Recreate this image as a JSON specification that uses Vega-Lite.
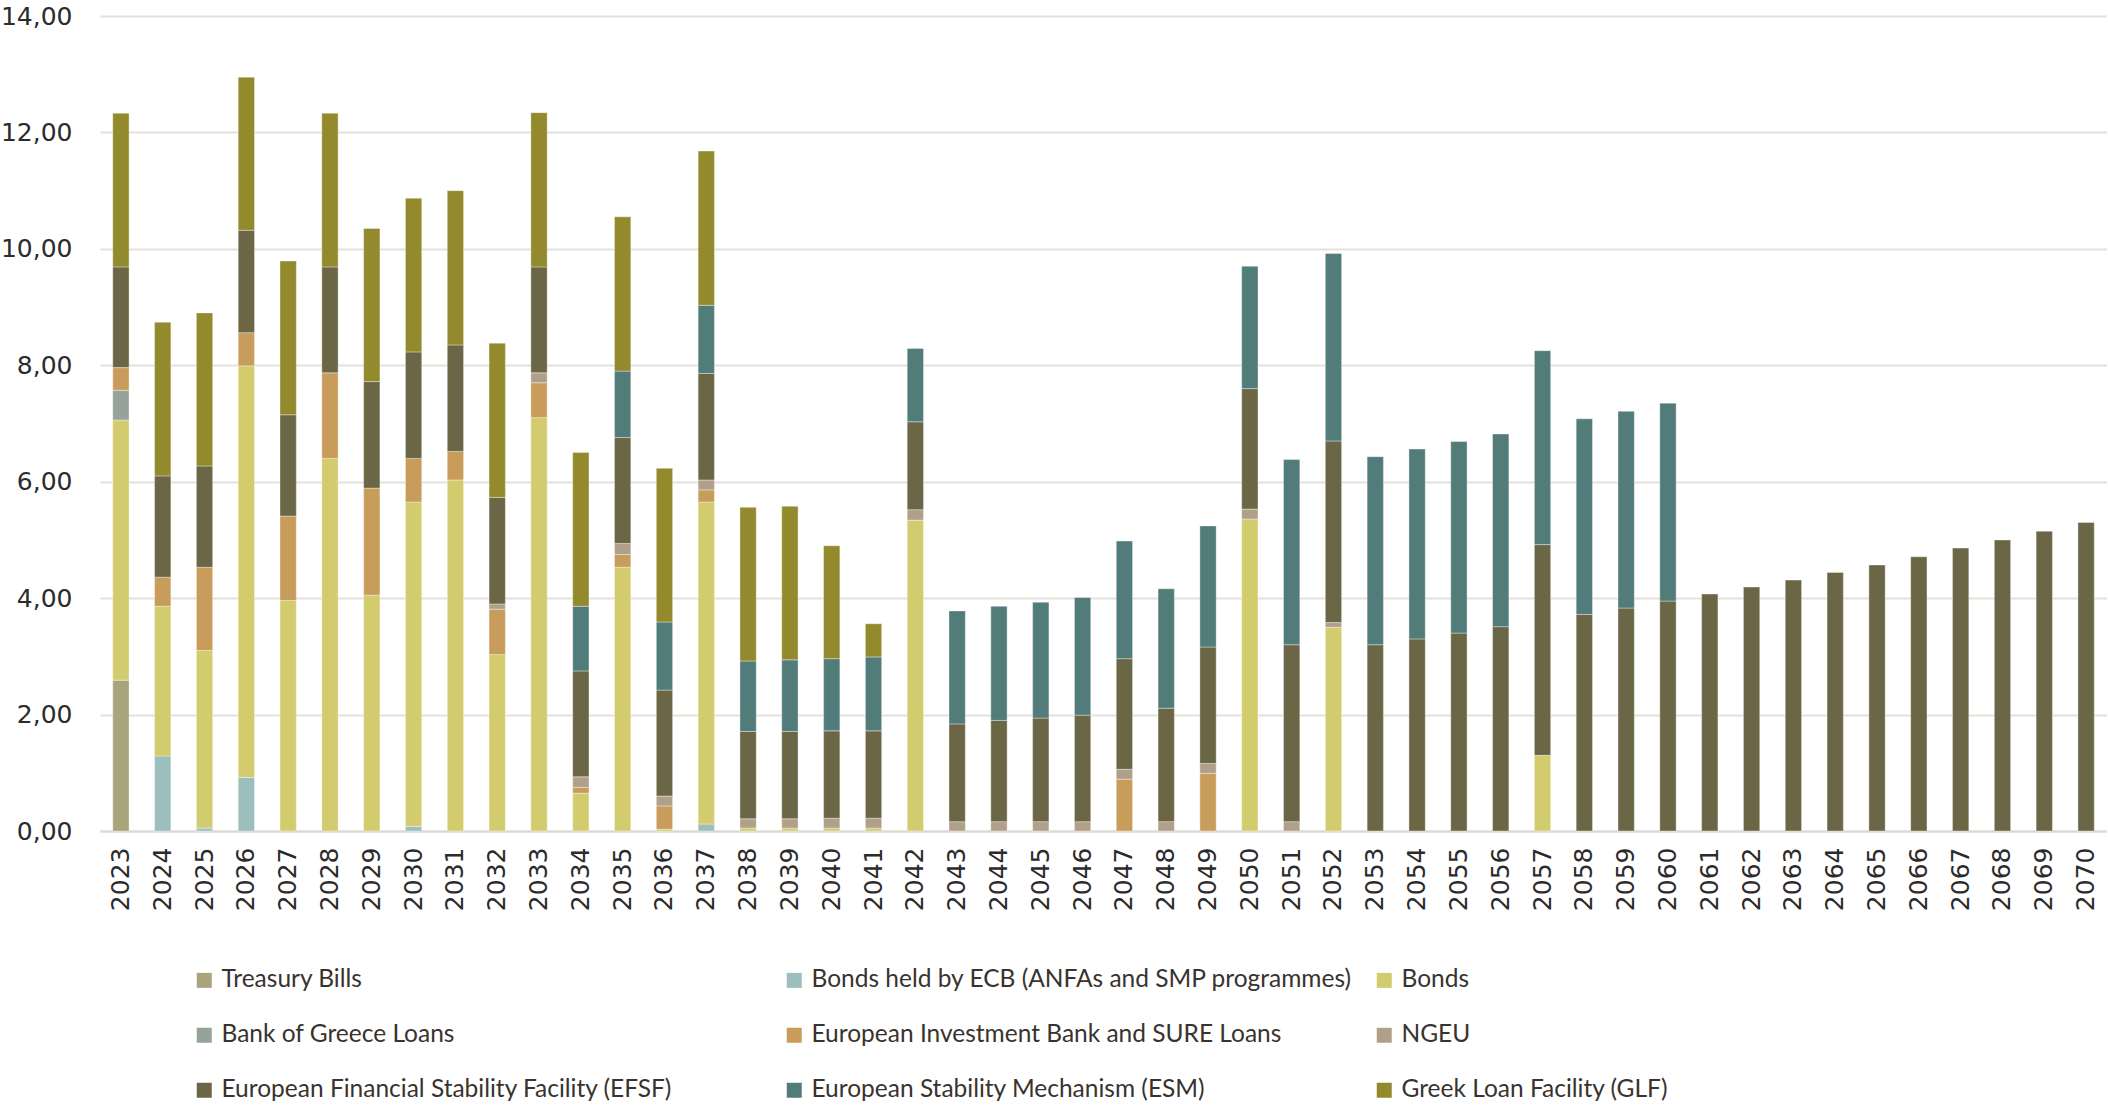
{
  "$schema": "https://vega.github.io/schema/vega-lite/v6.json",
  "width": 2007,
  "height": 815,
  "padding": {"left": 0, "top": 4, "right": 0, "bottom": 0},
  "background": "#ffffff",
  "datasets": {
    "seriesOrder": [
      {"series": "Treasury Bills", "rank": 1},
      {"series": "Bonds held by ECB (ANFAs and SMP programmes)", "rank": 2},
      {"series": "Bonds", "rank": 3},
      {"series": "Bank of Greece Loans", "rank": 4},
      {"series": "European Investment Bank and SURE Loans", "rank": 5},
      {"series": "NGEU", "rank": 6},
      {"series": "European Financial Stability Facility (EFSF)", "rank": 7},
      {"series": "European Stability Mechanism (ESM)", "rank": 8},
      {"series": "Greek Loan Facility (GLF)", "rank": 9}
    ]
  },
  "data": {"values": [
    {"year": "2023", "Treasury Bills": 2.59, "Bonds": 4.47, "Bank of Greece Loans": 0.51, "European Investment Bank and SURE Loans": 0.39, "European Financial Stability Facility (EFSF)": 1.73, "Greek Loan Facility (GLF)": 2.64},
    {"year": "2024", "Bonds held by ECB (ANFAs and SMP programmes)": 1.29, "Bonds": 2.57, "European Investment Bank and SURE Loans": 0.50, "European Financial Stability Facility (EFSF)": 1.74, "Greek Loan Facility (GLF)": 2.64},
    {"year": "2025", "Bonds held by ECB (ANFAs and SMP programmes)": 0.05, "Bonds": 3.05, "European Investment Bank and SURE Loans": 1.43, "European Financial Stability Facility (EFSF)": 1.74, "Greek Loan Facility (GLF)": 2.63},
    {"year": "2026", "Bonds held by ECB (ANFAs and SMP programmes)": 0.92, "Bonds": 7.07, "European Investment Bank and SURE Loans": 0.57, "European Financial Stability Facility (EFSF)": 1.76, "Greek Loan Facility (GLF)": 2.63},
    {"year": "2027", "Bonds": 3.96, "European Investment Bank and SURE Loans": 1.45, "European Financial Stability Facility (EFSF)": 1.74, "Greek Loan Facility (GLF)": 2.64},
    {"year": "2028", "Bonds": 6.40, "European Investment Bank and SURE Loans": 1.47, "European Financial Stability Facility (EFSF)": 1.82, "Greek Loan Facility (GLF)": 2.64},
    {"year": "2029", "Bonds": 4.05, "European Investment Bank and SURE Loans": 1.84, "European Financial Stability Facility (EFSF)": 1.83, "Greek Loan Facility (GLF)": 2.63},
    {"year": "2030", "Bonds held by ECB (ANFAs and SMP programmes)": 0.08, "Bonds": 5.57, "European Investment Bank and SURE Loans": 0.75, "European Financial Stability Facility (EFSF)": 1.83, "Greek Loan Facility (GLF)": 2.64},
    {"year": "2031", "Bonds": 6.03, "European Investment Bank and SURE Loans": 0.49, "European Financial Stability Facility (EFSF)": 1.83, "Greek Loan Facility (GLF)": 2.65},
    {"year": "2032", "Bonds": 3.03, "European Investment Bank and SURE Loans": 0.78, "NGEU": 0.09, "European Financial Stability Facility (EFSF)": 1.83, "Greek Loan Facility (GLF)": 2.65},
    {"year": "2033", "Bonds": 7.10, "European Investment Bank and SURE Loans": 0.60, "NGEU": 0.17, "European Financial Stability Facility (EFSF)": 1.82, "Greek Loan Facility (GLF)": 2.65},
    {"year": "2034", "Bonds": 0.65, "European Investment Bank and SURE Loans": 0.10, "NGEU": 0.18, "European Financial Stability Facility (EFSF)": 1.82, "European Stability Mechanism (ESM)": 1.11, "Greek Loan Facility (GLF)": 2.64},
    {"year": "2035", "Bonds": 4.53, "European Investment Bank and SURE Loans": 0.22, "NGEU": 0.19, "European Financial Stability Facility (EFSF)": 1.82, "European Stability Mechanism (ESM)": 1.14, "Greek Loan Facility (GLF)": 2.65},
    {"year": "2036", "Bonds": 0.03, "European Investment Bank and SURE Loans": 0.40, "NGEU": 0.17, "European Financial Stability Facility (EFSF)": 1.82, "European Stability Mechanism (ESM)": 1.17, "Greek Loan Facility (GLF)": 2.64},
    {"year": "2037", "Bonds held by ECB (ANFAs and SMP programmes)": 0.12, "Bonds": 5.53, "European Investment Bank and SURE Loans": 0.21, "NGEU": 0.17, "European Financial Stability Facility (EFSF)": 1.83, "European Stability Mechanism (ESM)": 1.17, "Greek Loan Facility (GLF)": 2.65},
    {"year": "2038", "Bonds": 0.05, "NGEU": 0.16, "European Financial Stability Facility (EFSF)": 1.50, "European Stability Mechanism (ESM)": 1.21, "Greek Loan Facility (GLF)": 2.64},
    {"year": "2039", "Bonds": 0.05, "NGEU": 0.16, "European Financial Stability Facility (EFSF)": 1.50, "European Stability Mechanism (ESM)": 1.23, "Greek Loan Facility (GLF)": 2.64},
    {"year": "2040", "Bonds": 0.05, "NGEU": 0.17, "European Financial Stability Facility (EFSF)": 1.50, "European Stability Mechanism (ESM)": 1.24, "Greek Loan Facility (GLF)": 1.94},
    {"year": "2041", "Bonds": 0.05, "NGEU": 0.17, "European Financial Stability Facility (EFSF)": 1.50, "European Stability Mechanism (ESM)": 1.27, "Greek Loan Facility (GLF)": 0.57},
    {"year": "2042", "Bonds": 5.34, "NGEU": 0.18, "European Financial Stability Facility (EFSF)": 1.51, "European Stability Mechanism (ESM)": 1.26},
    {"year": "2043", "NGEU": 0.16, "European Financial Stability Facility (EFSF)": 1.68, "European Stability Mechanism (ESM)": 1.94},
    {"year": "2044", "NGEU": 0.16, "European Financial Stability Facility (EFSF)": 1.74, "European Stability Mechanism (ESM)": 1.96},
    {"year": "2045", "NGEU": 0.16, "European Financial Stability Facility (EFSF)": 1.78, "European Stability Mechanism (ESM)": 1.99},
    {"year": "2046", "NGEU": 0.16, "European Financial Stability Facility (EFSF)": 1.83, "European Stability Mechanism (ESM)": 2.02},
    {"year": "2047", "European Investment Bank and SURE Loans": 0.89, "NGEU": 0.17, "European Financial Stability Facility (EFSF)": 1.90, "European Stability Mechanism (ESM)": 2.02},
    {"year": "2048", "NGEU": 0.16, "European Financial Stability Facility (EFSF)": 1.95, "European Stability Mechanism (ESM)": 2.05},
    {"year": "2049", "European Investment Bank and SURE Loans": 0.99, "NGEU": 0.17, "European Financial Stability Facility (EFSF)": 2.00, "European Stability Mechanism (ESM)": 2.08},
    {"year": "2050", "Bonds": 5.36, "NGEU": 0.17, "European Financial Stability Facility (EFSF)": 2.07, "European Stability Mechanism (ESM)": 2.10},
    {"year": "2051", "NGEU": 0.16, "European Financial Stability Facility (EFSF)": 3.04, "European Stability Mechanism (ESM)": 3.18},
    {"year": "2052", "Bonds": 3.50, "NGEU": 0.08, "European Financial Stability Facility (EFSF)": 3.12, "European Stability Mechanism (ESM)": 3.22},
    {"year": "2053", "European Financial Stability Facility (EFSF)": 3.20, "European Stability Mechanism (ESM)": 3.23},
    {"year": "2054", "European Financial Stability Facility (EFSF)": 3.30, "European Stability Mechanism (ESM)": 3.26},
    {"year": "2055", "European Financial Stability Facility (EFSF)": 3.40, "European Stability Mechanism (ESM)": 3.29},
    {"year": "2056", "European Financial Stability Facility (EFSF)": 3.51, "European Stability Mechanism (ESM)": 3.31},
    {"year": "2057", "Bonds": 1.30, "European Financial Stability Facility (EFSF)": 3.62, "European Stability Mechanism (ESM)": 3.33},
    {"year": "2058", "European Financial Stability Facility (EFSF)": 3.72, "European Stability Mechanism (ESM)": 3.36},
    {"year": "2059", "European Financial Stability Facility (EFSF)": 3.83, "European Stability Mechanism (ESM)": 3.38},
    {"year": "2060", "European Financial Stability Facility (EFSF)": 3.95, "European Stability Mechanism (ESM)": 3.40},
    {"year": "2061", "European Financial Stability Facility (EFSF)": 4.07},
    {"year": "2062", "European Financial Stability Facility (EFSF)": 4.19},
    {"year": "2063", "European Financial Stability Facility (EFSF)": 4.31},
    {"year": "2064", "European Financial Stability Facility (EFSF)": 4.44},
    {"year": "2065", "European Financial Stability Facility (EFSF)": 4.57},
    {"year": "2066", "European Financial Stability Facility (EFSF)": 4.71},
    {"year": "2067", "European Financial Stability Facility (EFSF)": 4.86},
    {"year": "2068", "European Financial Stability Facility (EFSF)": 5.00},
    {"year": "2069", "European Financial Stability Facility (EFSF)": 5.15},
    {"year": "2070", "European Financial Stability Facility (EFSF)": 5.30}
  ]},
  "transform": [
    {"fold": ["Treasury Bills", "Bonds held by ECB (ANFAs and SMP programmes)", "Bonds", "Bank of Greece Loans", "European Investment Bank and SURE Loans", "NGEU", "European Financial Stability Facility (EFSF)", "European Stability Mechanism (ESM)", "Greek Loan Facility (GLF)"], "as": ["series", "value"]},
    {"filter": "isValid(datum.value)"},
    {"lookup": "series", "from": {"data": {"name": "seriesOrder"}, "key": "series", "fields": ["rank"]}}
  ],
  "mark": {"type": "bar", "stroke": "#ffffff", "strokeWidth": 0.6, "strokeOpacity": 0.6},
  "encoding": {
    "x": {
      "field": "year", "type": "ordinal",
      "scale": {"paddingInner": 0.61, "paddingOuter": 0.305},
      "axis": {"title": null, "labelAngle": -90, "labelFontSize": 25, "labelFont": "DejaVu Sans", "labelColor": "#2b2b2b", "labelPadding": 16, "ticks": false, "domain": true, "domainColor": "#dcd9d2", "domainWidth": 2, "labelBaseline": "middle"}
    },
    "y": {
      "field": "value", "type": "quantitative", "stack": "zero",
      "scale": {"domain": [0, 14], "nice": false},
      "axis": {"title": null, "values": [0, 2, 4, 6, 8, 10, 12, 14], "labelExpr": "replace(format(datum.value, '.2f'), '.', ',')", "labelFontSize": 25, "labelFont": "DejaVu Sans", "labelColor": "#2b2b2b", "labelPadding": 28, "ticks": false, "domain": false, "grid": true, "gridColor": "#e4e1da", "gridWidth": 2}
    },
    "order": {"field": "rank", "type": "quantitative", "sort": "ascending"},
    "color": {
      "field": "series", "type": "nominal",
      "scale": {
        "domain": ["Treasury Bills", "Bonds held by ECB (ANFAs and SMP programmes)", "Bonds", "Bank of Greece Loans", "European Investment Bank and SURE Loans", "NGEU", "European Financial Stability Facility (EFSF)", "European Stability Mechanism (ESM)", "Greek Loan Facility (GLF)"],
        "range": ["#a9a47b", "#9cbfbd", "#d2cc6e", "#95a39a", "#c89d5c", "#b0a08a", "#6b6746", "#527c7a", "#938a2e"]
      },
      "legend": {
        "title": null, "orient": "none", "legendX": 92, "legendY": 952,
        "direction": "horizontal", "columns": 3, "gridAlign": "all",
        "columnPadding": 19, "rowPadding": 30,
        "symbolType": "square", "symbolSize": 225, "symbolStrokeWidth": 0,
        "labelFont": "Lato", "labelFontSize": 24.5, "labelColor": "#38332e", "labelOffset": 5, "labelLimit": 700
      }
    }
  },
  "config": {"view": {"stroke": null}}
}
